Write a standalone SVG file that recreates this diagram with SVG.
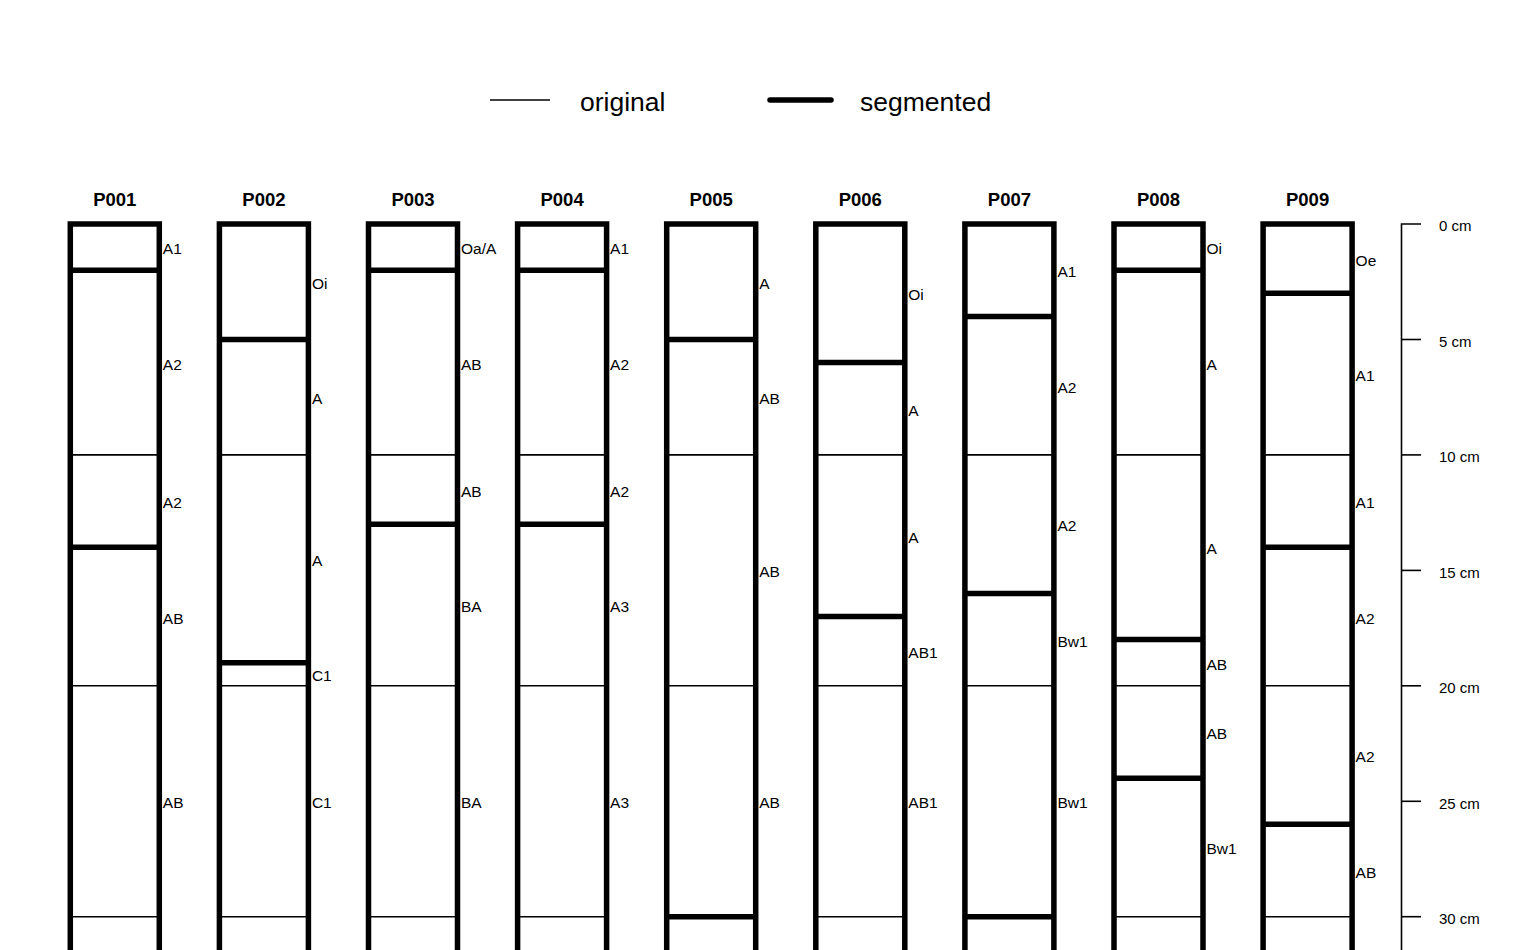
<svg xmlns="http://www.w3.org/2000/svg" width="1536" height="950" viewBox="0 0 1536 950">
<style>
.thick{stroke:#000;stroke-width:5.5;fill:none}
.thin{stroke:#000;stroke-width:1.6;fill:none}
.lbl{font-family:"Liberation Sans",Arial,sans-serif;font-size:15.5px;fill:#000}
.ttl{font-family:"Liberation Sans",Arial,sans-serif;font-size:18.5px;font-weight:bold;fill:#000;text-anchor:middle}
.leg{font-family:"Liberation Sans",Arial,sans-serif;font-size:26.5px;fill:#000}
.sc{font-family:"Liberation Sans",Arial,sans-serif;font-size:15px;fill:#000}
</style>
<rect width="1536" height="950" fill="#fff"/>
<g id="legend">
<line class="thin" x1="490" y1="100" x2="550" y2="100"/>
<text class="leg" x="580" y="111">original</text>
<line class="thick" x1="770" y1="100" x2="831" y2="100" stroke-linecap="round" stroke-width="5"/>
<text class="leg" x="860" y="111">segmented</text>
</g>
<g id="P001" transform="translate(70.3,0)">
<text class="ttl" x="44.5" y="206">P001</text>
<path class="thick" d="M0,950V224H89V950"/>
<line class="thick" x1="0" x2="89" y1="270.2" y2="270.2"/>
<line class="thick" x1="0" x2="89" y1="547.3" y2="547.3"/>
<line class="thin" x1="0" x2="89" y1="454.9" y2="454.9"/>
<line class="thin" x1="0" x2="89" y1="685.8" y2="685.8"/>
<line class="thin" x1="0" x2="89" y1="916.7" y2="916.7"/>
<text class="lbl" x="92.5" y="254.1">A1</text>
<text class="lbl" x="92.5" y="369.5">A2</text>
<text class="lbl" x="92.5" y="508.1">A2</text>
<text class="lbl" x="92.5" y="623.5">AB</text>
<text class="lbl" x="92.5" y="808.3">AB</text>
</g>
<g id="P002" transform="translate(219.4,0)">
<text class="ttl" x="44.5" y="206">P002</text>
<path class="thick" d="M0,950V224H89V950"/>
<line class="thick" x1="0" x2="89" y1="339.5" y2="339.5"/>
<line class="thick" x1="0" x2="89" y1="662.7" y2="662.7"/>
<line class="thin" x1="0" x2="89" y1="454.9" y2="454.9"/>
<line class="thin" x1="0" x2="89" y1="685.8" y2="685.8"/>
<line class="thin" x1="0" x2="89" y1="916.7" y2="916.7"/>
<text class="lbl" x="92.5" y="288.7">Oi</text>
<text class="lbl" x="92.5" y="404.2">A</text>
<text class="lbl" x="92.5" y="565.8">A</text>
<text class="lbl" x="92.5" y="681.3">C1</text>
<text class="lbl" x="92.5" y="808.3">C1</text>
</g>
<g id="P003" transform="translate(368.5,0)">
<text class="ttl" x="44.5" y="206">P003</text>
<path class="thick" d="M0,950V224H89V950"/>
<line class="thick" x1="0" x2="89" y1="270.2" y2="270.2"/>
<line class="thick" x1="0" x2="89" y1="524.2" y2="524.2"/>
<line class="thin" x1="0" x2="89" y1="454.9" y2="454.9"/>
<line class="thin" x1="0" x2="89" y1="685.8" y2="685.8"/>
<line class="thin" x1="0" x2="89" y1="916.7" y2="916.7"/>
<text class="lbl" x="92.5" y="254.1">Oa/A</text>
<text class="lbl" x="92.5" y="369.5">AB</text>
<text class="lbl" x="92.5" y="496.5">AB</text>
<text class="lbl" x="92.5" y="612">BA</text>
<text class="lbl" x="92.5" y="808.3">BA</text>
</g>
<g id="P004" transform="translate(517.6,0)">
<text class="ttl" x="44.5" y="206">P004</text>
<path class="thick" d="M0,950V224H89V950"/>
<line class="thick" x1="0" x2="89" y1="270.2" y2="270.2"/>
<line class="thick" x1="0" x2="89" y1="524.2" y2="524.2"/>
<line class="thin" x1="0" x2="89" y1="454.9" y2="454.9"/>
<line class="thin" x1="0" x2="89" y1="685.8" y2="685.8"/>
<line class="thin" x1="0" x2="89" y1="916.7" y2="916.7"/>
<text class="lbl" x="92.5" y="254.1">A1</text>
<text class="lbl" x="92.5" y="369.5">A2</text>
<text class="lbl" x="92.5" y="496.5">A2</text>
<text class="lbl" x="92.5" y="612">A3</text>
<text class="lbl" x="92.5" y="808.3">A3</text>
</g>
<g id="P005" transform="translate(666.7,0)">
<text class="ttl" x="44.5" y="206">P005</text>
<path class="thick" d="M0,950V224H89V950"/>
<line class="thick" x1="0" x2="89" y1="339.5" y2="339.5"/>
<line class="thick" x1="0" x2="89" y1="916.7" y2="916.7"/>
<line class="thin" x1="0" x2="89" y1="454.9" y2="454.9"/>
<line class="thin" x1="0" x2="89" y1="685.8" y2="685.8"/>
<text class="lbl" x="92.5" y="288.7">A</text>
<text class="lbl" x="92.5" y="404.2">AB</text>
<text class="lbl" x="92.5" y="577.4">AB</text>
<text class="lbl" x="92.5" y="808.3">AB</text>
</g>
<g id="P006" transform="translate(815.8,0)">
<text class="ttl" x="44.5" y="206">P006</text>
<path class="thick" d="M0,950V224H89V950"/>
<line class="thick" x1="0" x2="89" y1="362.5" y2="362.5"/>
<line class="thick" x1="0" x2="89" y1="616.5" y2="616.5"/>
<line class="thin" x1="0" x2="89" y1="454.9" y2="454.9"/>
<line class="thin" x1="0" x2="89" y1="685.8" y2="685.8"/>
<line class="thin" x1="0" x2="89" y1="916.7" y2="916.7"/>
<text class="lbl" x="92.5" y="300.3">Oi</text>
<text class="lbl" x="92.5" y="415.7">A</text>
<text class="lbl" x="92.5" y="542.7">A</text>
<text class="lbl" x="92.5" y="658.2">AB1</text>
<text class="lbl" x="92.5" y="808.3">AB1</text>
</g>
<g id="P007" transform="translate(964.9,0)">
<text class="ttl" x="44.5" y="206">P007</text>
<path class="thick" d="M0,950V224H89V950"/>
<line class="thick" x1="0" x2="89" y1="316.4" y2="316.4"/>
<line class="thick" x1="0" x2="89" y1="593.4" y2="593.4"/>
<line class="thick" x1="0" x2="89" y1="916.7" y2="916.7"/>
<line class="thin" x1="0" x2="89" y1="454.9" y2="454.9"/>
<line class="thin" x1="0" x2="89" y1="685.8" y2="685.8"/>
<text class="lbl" x="92.5" y="277.2">A1</text>
<text class="lbl" x="92.5" y="392.6">A2</text>
<text class="lbl" x="92.5" y="531.2">A2</text>
<text class="lbl" x="92.5" y="646.6">Bw1</text>
<text class="lbl" x="92.5" y="808.3">Bw1</text>
</g>
<g id="P008" transform="translate(1114,0)">
<text class="ttl" x="44.5" y="206">P008</text>
<path class="thick" d="M0,950V224H89V950"/>
<line class="thick" x1="0" x2="89" y1="270.2" y2="270.2"/>
<line class="thick" x1="0" x2="89" y1="639.6" y2="639.6"/>
<line class="thick" x1="0" x2="89" y1="778.2" y2="778.2"/>
<line class="thin" x1="0" x2="89" y1="454.9" y2="454.9"/>
<line class="thin" x1="0" x2="89" y1="685.8" y2="685.8"/>
<line class="thin" x1="0" x2="89" y1="916.7" y2="916.7"/>
<text class="lbl" x="92.5" y="254.1">Oi</text>
<text class="lbl" x="92.5" y="369.5">A</text>
<text class="lbl" x="92.5" y="554.3">A</text>
<text class="lbl" x="92.5" y="669.7">AB</text>
<text class="lbl" x="92.5" y="739">AB</text>
<text class="lbl" x="92.5" y="854.4">Bw1</text>
</g>
<g id="P009" transform="translate(1263.1,0)">
<text class="ttl" x="44.5" y="206">P009</text>
<path class="thick" d="M0,950V224H89V950"/>
<line class="thick" x1="0" x2="89" y1="293.3" y2="293.3"/>
<line class="thick" x1="0" x2="89" y1="547.3" y2="547.3"/>
<line class="thick" x1="0" x2="89" y1="824.3" y2="824.3"/>
<line class="thin" x1="0" x2="89" y1="454.9" y2="454.9"/>
<line class="thin" x1="0" x2="89" y1="685.8" y2="685.8"/>
<line class="thin" x1="0" x2="89" y1="916.7" y2="916.7"/>
<text class="lbl" x="92.5" y="265.6">Oe</text>
<text class="lbl" x="92.5" y="381.1">A1</text>
<text class="lbl" x="92.5" y="508.1">A1</text>
<text class="lbl" x="92.5" y="623.5">A2</text>
<text class="lbl" x="92.5" y="762.1">A2</text>
<text class="lbl" x="92.5" y="877.5">AB</text>
</g>
<g id="scale">
<path class="thin" d="M1421,224H1401.5V950"/>
<line class="thin" x1="1401.5" x2="1421" y1="339.5" y2="339.5"/>
<line class="thin" x1="1401.5" x2="1421" y1="454.9" y2="454.9"/>
<line class="thin" x1="1401.5" x2="1421" y1="570.4" y2="570.4"/>
<line class="thin" x1="1401.5" x2="1421" y1="685.8" y2="685.8"/>
<line class="thin" x1="1401.5" x2="1421" y1="801.3" y2="801.3"/>
<line class="thin" x1="1401.5" x2="1421" y1="916.7" y2="916.7"/>
<text class="sc" x="1439" y="231.3">0 cm</text>
<text class="sc" x="1439" y="346.8">5 cm</text>
<text class="sc" x="1439" y="462.2">10 cm</text>
<text class="sc" x="1439" y="577.7">15 cm</text>
<text class="sc" x="1439" y="693.1">20 cm</text>
<text class="sc" x="1439" y="808.6">25 cm</text>
<text class="sc" x="1439" y="924">30 cm</text>
</g>
</svg>
